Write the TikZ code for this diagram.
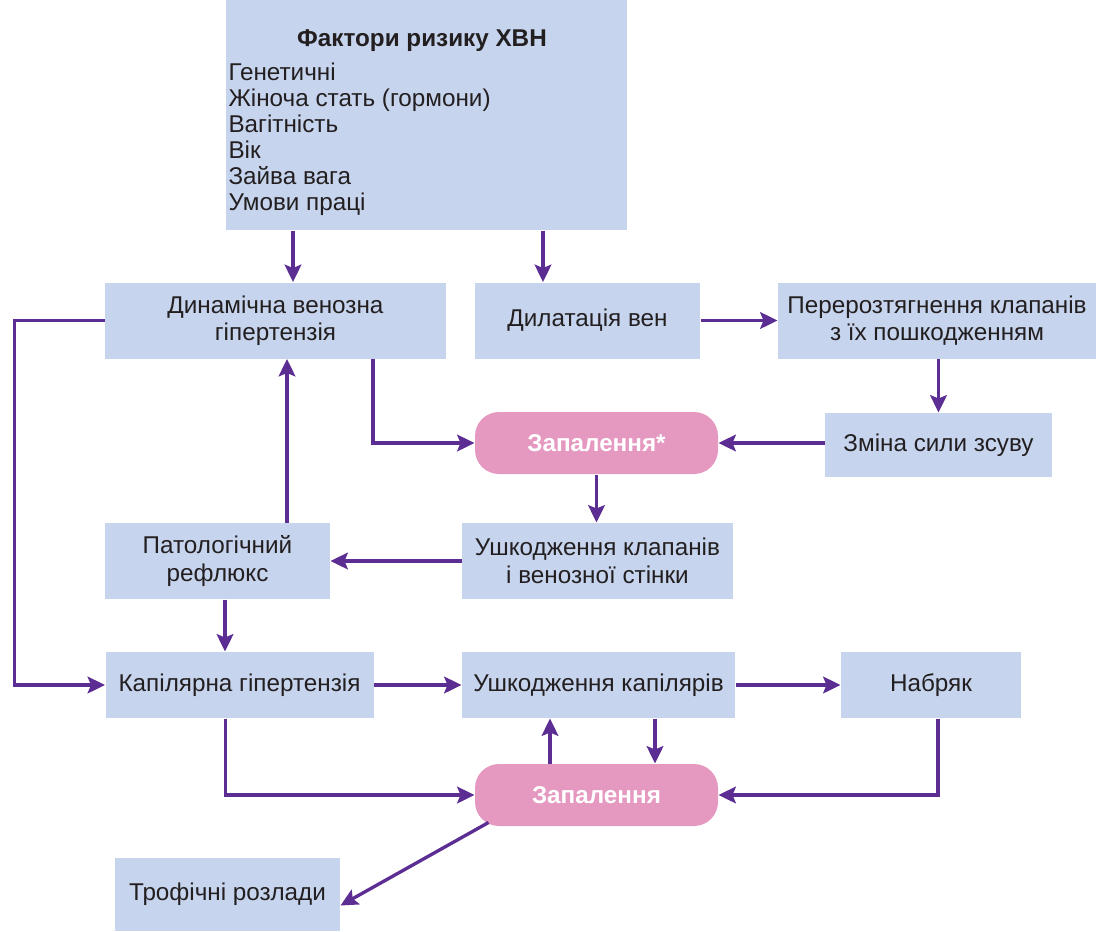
\documentclass[tikz,border=0pt]{standalone}
\usepackage{fontspec}
\setmainfont{Liberation Sans}
\usetikzlibrary{arrows.meta,calc}

\definecolor{boxblue}{RGB}{198,212,237}
\definecolor{pillpink}{RGB}{229,153,193}
\definecolor{arrowpurple}{RGB}{92,45,146}
\definecolor{inkdark}{RGB}{35,31,32}

\tikzset{every picture/.style={line width=0.75pt}}
\tikzset{
  blockbox/.style={fill=boxblue, draw=none, inner sep=0pt, align=center, text=inkdark,
    font=\fontsize{18.2}{20.6}\selectfont},
  pillbox/.style={fill=pillpink, draw=none, rounded corners=18pt, inner sep=0pt, text=white,
    font=\bfseries\fontsize{18.2}{20.6}\selectfont},
  listtext/.style={inner sep=0pt, text=inkdark, font=\fontsize{18.2}{19.5}\selectfont},
  flow/.style={draw=arrowpurple, line width=2.5pt, -{Stealth[length=13pt,width=12.5pt,inset=2.5pt]}}
}

\begin{document}
\begin{tikzpicture}[x=0.75pt,y=0.75pt,yscale=-1,xscale=1]
\useasboundingbox (0,0) rectangle (1098,931);

%Shape: Rectangle [risk factors]
\node[blockbox, minimum width=0.75*401, minimum height=0.75*230] (factors) at (426.5,115) {};
% Text Node
\node[listtext, anchor=base, font=\bfseries\fontsize{18.2}{19.5}\selectfont] (factorstitle) at (422,47) {Фактори ризику ХВН};
% Text Node (list)
\foreach \t [count=\i] in {Генетичні, Жіноча стать (гормони), Вагітність, Вік, Зайва вага, Умови праці}
  \node[listtext, anchor=base west] (fac\i) at (228,{80+26*(\i-1)}) {\t};

%Shape: Rectangle [top row]
\node[blockbox, minimum width=0.75*341, minimum height=0.75*76] (dynhyp) at (275.5,320.5) {Динамічна венозна\\гіпертензія};
\node[blockbox, minimum width=0.75*225, minimum height=0.75*76] (dilat) at (587.5,320.5) {Дилатація вен};
\node[blockbox, minimum width=0.75*318, minimum height=0.75*76] (overstr) at (937,320.5) {Перерозтягнення клапанів\\з їх пошкодженням};

%Shape: Rounded Rect + Rectangle [second row]
\node[pillbox, minimum width=0.75*243, minimum height=0.75*62] (inflone) at (596.5,443) {Запалення*};
\node[blockbox, minimum width=0.75*227, minimum height=0.75*64] (shear) at (938.5,445) {Зміна сили зсуву};

%Shape: Rectangle [third row]
\node[blockbox, minimum width=0.75*225, minimum height=0.75*76] (reflux) at (217.5,561) {Патологічний\\рефлюкс};
\node[blockbox, minimum width=0.75*271, minimum height=0.75*76] (valve) at (597.5,561) {Ушкодження клапанів\\і венозної стінки};

%Shape: Rectangle [fourth row]
\node[blockbox, minimum width=0.75*268, minimum height=0.75*66] (caphyp) at (239.5,685) {Капілярна гіпертензія};
\node[blockbox, minimum width=0.75*273, minimum height=0.75*66] (capdmg) at (598.5,685) {Ушкодження капілярів};
\node[blockbox, minimum width=0.75*180, minimum height=0.75*66] (edema) at (931,685) {Набряк};

%Shape: Rounded Rect [bottom]
\node[pillbox, minimum width=0.75*243, minimum height=0.75*62] (infltwo) at (596.5,795) {Запалення};
\node[blockbox, minimum width=0.75*225, minimum height=0.75*73] (trophic) at (227.5,894.5) {Трофічні розлади};

% connector points
\coordinate (pa) at ($(dynhyp.north)+(17.5,0)$);
\coordinate (pb) at ($(dilat.north)+(-44.5,0)$);
\coordinate (pd) at ($(dynhyp.south)+(97.5,0)$);
\coordinate (pe) at ($(reflux.north)+(69.5,0)$);
\coordinate (pf) at ($(reflux.south)+(7.5,0)$);
\coordinate (loop) at ($(dynhyp.west)+(-90,0)$);
\coordinate (pg) at ($(infltwo.north)+(-46.5,0)$);
\coordinate (ph) at ($(capdmg.south)+(56.5,0)$);
\coordinate (pi) at ($(caphyp.south)+(-14,0)$);
\coordinate (pj) at ($(edema.south)+(7,0)$);
\coordinate (pk) at ($(infltwo.south west)+(14,-4)$);
\coordinate (pl) at ($(trophic.east)+(0,11)$);

%Straight Lines
\draw[flow] (factors.south -| pa) -- (pa);
\draw[flow] (factors.south -| pb) -- (pb);
\draw[flow] (dilat.east) -- (overstr.west);
\draw[flow] (overstr.south -| shear.north) -- (shear.north);
\draw[flow] (shear.west |- inflone.east) -- (inflone.east);
\draw[flow] (pd) |- (inflone.west);
\draw[flow] (inflone.south) -- (valve.north -| inflone.south);
\draw[flow] (valve.west) -- (reflux.east);
\draw[flow] (pe) -- (pe |- dynhyp.south);
\draw[flow] (pf) -- (pf |- caphyp.north);
\draw[flow] (dynhyp.west) -- (loop) |- (caphyp.west);
\draw[flow] (caphyp.east) -- (capdmg.west);
\draw[flow] (capdmg.east) -- (edema.west);
\draw[flow] (pg) -- (pg |- capdmg.south);
\draw[flow] (ph) -- (ph |- infltwo.north);
\draw[flow] (pi) |- (infltwo.west);
\draw[flow] (pj) |- (infltwo.east);
\draw[flow] (pk) -- (pl);

\end{tikzpicture}
\end{document}
